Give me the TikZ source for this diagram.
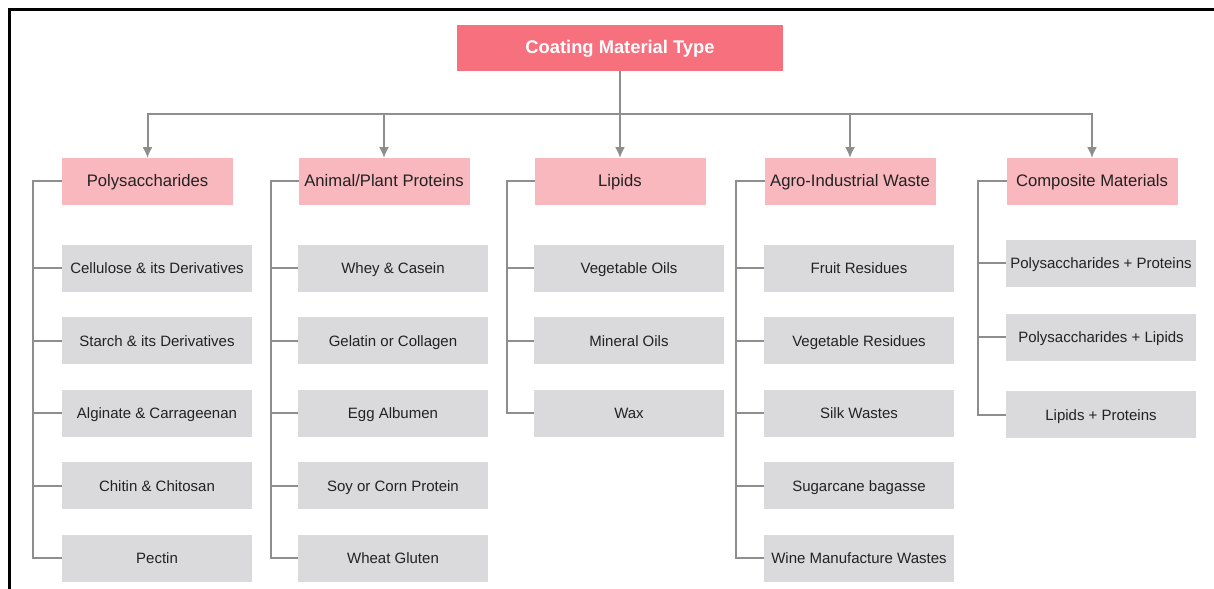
\documentclass[tikz,border=0pt]{standalone}
\usepackage{fontspec}
\setmainfont{Liberation Sans}
\usetikzlibrary{arrows.meta}
\definecolor{topred}{HTML}{F7707E}
\definecolor{catpink}{HTML}{F9B7BE}
\definecolor{leafgray}{HTML}{DADADD}
\definecolor{linkgray}{HTML}{8E8E8E}
\definecolor{textdark}{HTML}{222222}
\tikzset{inner sep=0pt, outer sep=0pt, text height=1.6ex, text depth=0.45ex}

\begin{document}
\begin{tikzpicture}[
            x=0.6pt, y=-0.6pt,
            topbox/.style={fill=topred, text=white, font=\fontsize{11}{13}\selectfont\bfseries,
                minimum width=195.6pt, minimum height=27.6pt},
            catbox/.style={fill=catpink, text=textdark, font=\fontsize{10}{12}\selectfont,
                minimum width=102.6pt, minimum height=28.2pt},
            leafbox/.style={fill=leafgray, text=textdark, font=\fontsize{9}{11}\selectfont,
                minimum width=114pt, minimum height=28.2pt},
            link/.style={draw=linkgray, line width=1.2pt},
            arrow/.style={link, -{Latex[width=6pt,length=6.5pt]}}
            ]
            \useasboundingbox (0,0) rectangle (1214,589);
            \draw[line width=1.8pt] (9,600) |- (1230,10);

            \node[topbox] (top) at (620,48) {Coating Material Type};

            \node[catbox] (poly) at (147.5,181.5) {Polysaccharides};
            \node[catbox] (prot) at (384,181.5) {Animal/Plant Proteins};
            \node[catbox] (lip) at (620,181.5) {Lipids};
            \node[catbox] (agro) at (850,181.5) {Agro-Industrial Waste};
            \node[catbox] (comp) at (1092,181.5) {Composite Materials};

            \node[leafbox] (poly1) at (157,268.5) {Cellulose \& its Derivatives};
            \node[leafbox] (poly2) at (157,341) {Starch \& its Derivatives};
            \node[leafbox] (poly3) at (157,413.5) {Alginate \& Carrageenan};
            \node[leafbox] (poly4) at (157,486) {Chitin \& Chitosan};
            \node[leafbox] (poly5) at (157,558.5) {Pectin};

            \node[leafbox] (prot1) at (393,268.5) {Whey \& Casein};
            \node[leafbox] (prot2) at (393,341) {Gelatin or Collagen};
            \node[leafbox] (prot3) at (393,413.5) {Egg Albumen};
            \node[leafbox] (prot4) at (393,486) {Soy or Corn Protein};
            \node[leafbox] (prot5) at (393,558.5) {Wheat Gluten};

            \node[leafbox] (lip1) at (629,268.5) {Vegetable Oils};
            \node[leafbox] (lip2) at (629,341) {Mineral Oils};
            \node[leafbox] (lip3) at (629,413.5) {Wax};

            \node[leafbox] (agro1) at (859,268.5) {Fruit Residues};
            \node[leafbox] (agro2) at (859,341) {Vegetable Residues};
            \node[leafbox] (agro3) at (859,413.5) {Silk Wastes};
            \node[leafbox] (agro4) at (859,486) {Sugarcane bagasse};
            \node[leafbox] (agro5) at (859,558.5) {Wine Manufacture Wastes};

            \node[leafbox] (comp1) at (1101,263.5) {Polysaccharides + Proteins};
            \node[leafbox] (comp2) at (1101,337.5) {Polysaccharides + Lipids};
            \node[leafbox] (comp3) at (1101,415) {Lipids + Proteins};

            \coordinate (bus) at (620,114);
            \draw[arrow] (top.south) -- (lip.north);
            \foreach \c in {poly,prot,agro,comp}
                \draw[arrow] (bus) -| (\c.north);

            \draw[link] (poly.west) -- ++(-29,0) coordinate (polyb) |- (poly5.west);
            \foreach \i in {1,...,4}
                \draw[link] (polyb |- poly\i.west) -- (poly\i.west);
            \draw[link] (prot.west) -- ++(-28,0) coordinate (protb) |- (prot5.west);
            \foreach \i in {1,...,4}
                \draw[link] (protb |- prot\i.west) -- (prot\i.west);
            \draw[link] (lip.west) -- ++(-28,0) coordinate (lipb) |- (lip3.west);
            \foreach \i in {1,2}
                \draw[link] (lipb |- lip\i.west) -- (lip\i.west);
            \draw[link] (agro.west) -- ++(-29,0) coordinate (agrob) |- (agro5.west);
            \foreach \i in {1,...,4}
                \draw[link] (agrob |- agro\i.west) -- (agro\i.west);
            \draw[link] (comp.west) -- ++(-29,0) coordinate (compb) |- (comp3.west);
            \foreach \i in {1,2}
                \draw[link] (compb |- comp\i.west) -- (comp\i.west);
        \end{tikzpicture}
\end{document}
